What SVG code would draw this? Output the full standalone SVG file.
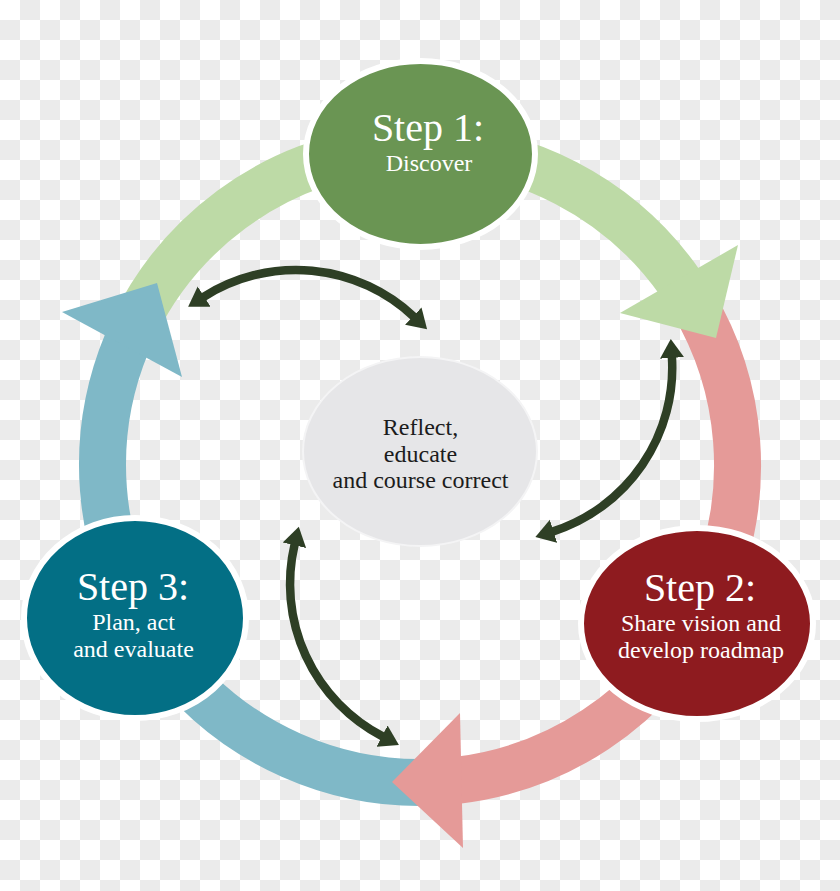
<svg xmlns="http://www.w3.org/2000/svg" width="840" height="891" viewBox="0 0 840 891">
<defs>
<pattern id="checker" width="40" height="40" patternUnits="userSpaceOnUse">
<rect width="40" height="40" fill="#ffffff"/>
<rect x="20" y="0" width="20" height="20" fill="#ebebeb"/>
<rect x="0" y="20" width="20" height="20" fill="#ebebeb"/>
</pattern>
<marker id="dh" viewBox="0 -13 20 26" refX="1" refY="0" markerWidth="20" markerHeight="26" markerUnits="userSpaceOnUse" orient="auto-start-reverse">
<path d="M0,-12 L19,0 L0,12 Z" fill="#2e3f25"/>
</marker>
<style>
.band{fill:none;stroke-width:47;stroke-linecap:butt}
.dark{fill:none;stroke:#2e3f25;stroke-width:8.5;marker-start:url(#dh);marker-end:url(#dh)}
.step{stroke:#ffffff;stroke-width:6}
.t{font-family:"Liberation Serif","Times New Roman",serif;text-anchor:middle}
.big{font-size:40px;fill:#ffffff}
.sub{font-size:24px;fill:#ffffff}
.ctr{font-size:24px;fill:#1c1c1c}
</style>
</defs>
<rect width="840" height="891" fill="url(#checker)"/>
<g id="ring">
<path class="band" stroke="#bddaa6" d="M134.6,325.8 A317.5,317.5 0 0 1 680.1,282.9"/>
<path class="band" stroke="#e59a98" d="M692.2,301.5 A317.5,317.5 0 0 1 458.7,780.1"/>
<path class="band" stroke="#7fb8c7" d="M436.6,782.1 A317.5,317.5 0 0 1 126.7,343.5"/>
<polygon fill="#bddaa6" points="738,245 716,338 620,313"/>
<polygon fill="#e59a98" points="460,713 463,848 392,782"/>
<polygon fill="#7fb8c7" points="62,312 157,283 182,377"/>
</g>
<g id="connectors">
<path class="dark" d="M203.3,297.1 A172,172 0 0 1 414,316.8"/>
<path class="dark" transform="rotate(119 420 465)" d="M203.3,297.1 A172,172 0 0 1 414,316.8"/>
<path class="dark" transform="rotate(240 420 465)" d="M203.3,297.1 A172,172 0 0 1 414,316.8"/>
</g>
<g id="step1">
<ellipse class="step" cx="420.5" cy="154" rx="114.5" ry="93" fill="#6a9553"/>
<text class="t big" x="428" y="141">Step 1:</text>
<text class="t sub" x="429" y="171">Discover</text>
</g>
<g id="step2">
<ellipse class="step" cx="697" cy="623.5" rx="116" ry="95.5" fill="#8e1b1f"/>
<text class="t big" x="700" y="601">Step 2:</text>
<text class="t sub" x="701" y="631">Share vision and</text>
<text class="t sub" x="701" y="658">develop roadmap</text>
</g>
<g id="step3">
<ellipse class="step" cx="135" cy="618" rx="111" ry="100" fill="#036f85"/>
<text class="t big" x="133" y="600">Step 3:</text>
<text class="t sub" x="133.5" y="630">Plan, act</text>
<text class="t sub" x="133.5" y="657">and evaluate</text>
</g>
<g id="center">
<ellipse cx="420" cy="451.5" rx="117" ry="94.5" fill="#e6e6e8" stroke="#f4f4f5" stroke-width="2"/>
<text class="t ctr" x="420.5" y="435">Reflect,</text>
<text class="t ctr" x="420.5" y="462">educate</text>
<text class="t ctr" x="420.5" y="488">and course correct</text>
</g>
</svg>
